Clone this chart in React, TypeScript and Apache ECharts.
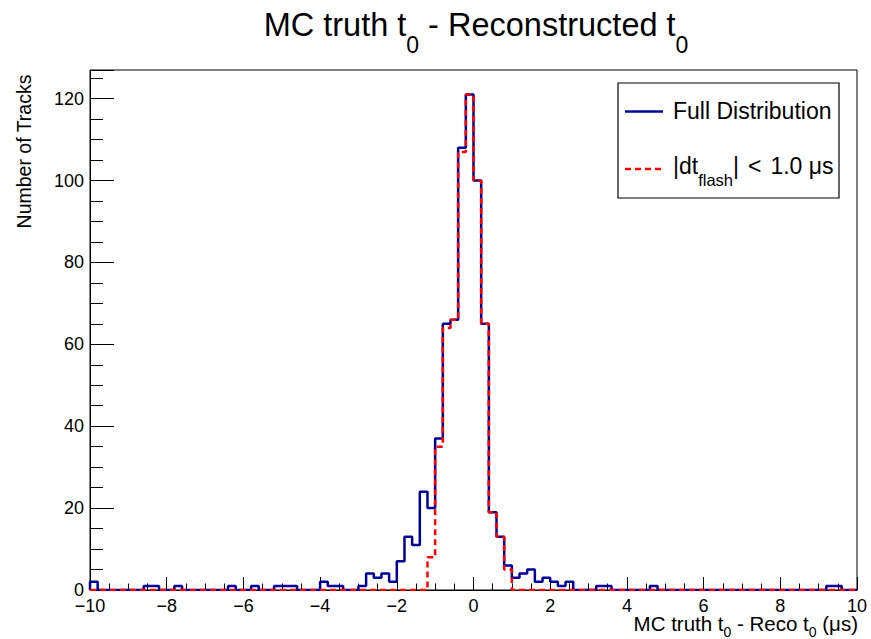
import React, { useEffect, useRef } from 'react';
import * as echarts from 'echarts';

// Histogram binning: 100 bins of 0.2 us from -10 to 10
const binStart = -10;
const binWidth = 0.2;

// Full distribution (blue, solid)
const fullCounts = [
  2, 0, 0, 0, 0, 0, 0, 1, 1, 0,
  0, 1, 0, 0, 0, 0, 0, 0, 1, 0,
  0, 1, 0, 0, 1, 1, 1, 0, 0, 0,
  2, 1, 1, 0, 0, 1, 4, 3, 4, 2,
  7, 13, 11, 24, 20, 37, 65, 66, 108, 121,
  100, 65, 19, 13, 6, 3, 4, 5, 2, 3,
  2, 1, 2, 0, 0, 0, 1, 1, 0, 0,
  0, 0, 0, 1, 0, 0, 0, 0, 0, 0,
  0, 0, 0, 0, 0, 0, 0, 0, 0, 0,
  0, 0, 0, 0, 0, 0, 1, 1, 0, 0,
];

// |dt_flash| < 1.0 us (red, dashed)
const cutCounts = [
  0, 0, 0, 0, 0, 0, 0, 0, 0, 0,
  0, 0, 0, 0, 0, 0, 0, 0, 0, 0,
  0, 0, 0, 0, 0, 0, 0, 0, 0, 0,
  0, 0, 0, 0, 0, 0, 0, 0, 0, 0,
  0, 0, 0, 0, 8, 35, 64, 66, 107, 121,
  100, 65, 19, 13, 5, 0, 0, 0, 0, 0,
  0, 0, 0, 0, 0, 0, 0, 0, 0, 0,
  0, 0, 0, 0, 0, 0, 0, 0, 0, 0,
  0, 0, 0, 0, 0, 0, 0, 0, 0, 0,
  0, 0, 0, 0, 0, 0, 0, 0, 0, 0,
];

const xMin = -10;
const xMax = 10;
const xInterval = 2;
const yMin = 0;
const yMax = 127;
const yMajor = 20;
const yMinor = 5;

const FONT = '"Liberation Sans", Arial, Helvetica, sans-serif';
const BLUE = '#000099';
const RED = '#ff0000';
const NB = '\u00a0';

function toSteps(counts: number[]): number[][] {
  const pts: number[][] = [[binStart, 0]];
  counts.forEach((c, i) => {
    pts.push([+(binStart + i * binWidth).toFixed(6), c]);
  });
  const end = +(binStart + counts.length * binWidth).toFixed(6);
  pts.push([end, counts[counts.length - 1]]);
  pts.push([end, 0]);
  return pts;
}

export default function App() {
  const ref = useRef<HTMLDivElement>(null);

  useEffect(() => {
    if (!ref.current) return;
    const chart = echarts.init(ref.current, undefined, { renderer: 'svg' });
    const black = '#000';
    const option: any = {
      animation: false,
      backgroundColor: '#fff',
      grid: {
        left: 90,
        right: 14,
        top: 70,
        bottom: 49,
        show: true,
        borderColor: black,
        borderWidth: 1,
        backgroundColor: 'transparent',
      },
      xAxis: {
        type: 'value',
        min: xMin,
        max: xMax,
        interval: xInterval,
        axisLine: { show: true, onZero: false, lineStyle: { color: black, width: 1 } },
        axisTick: { show: true, inside: true, length: 13, lineStyle: { color: black, width: 1 } },
        minorTick: { show: true, splitNumber: 4, length: 6.5, lineStyle: { color: black, width: 1 } },
        splitLine: { show: false },
        minorSplitLine: { show: false },
        axisLabel: {
          fontSize: 18,
          lineHeight: 14,
          fontFamily: FONT,
          color: black,
          margin: 9,
          formatter: (v: number) => String(v).replace('-', '\u2212'),
        },
      },
      yAxis: [
        {
          type: 'value',
          min: yMin,
          max: yMax,
          interval: yMajor,
          position: 'left',
          axisLine: { show: true, onZero: false, lineStyle: { color: black, width: 1 } },
          axisTick: { show: true, inside: true, length: 24, lineStyle: { color: black, width: 1 } },
          splitLine: { show: false },
          axisLabel: {
            fontSize: 18,
            fontFamily: FONT,
            color: black,
            margin: 6,
            formatter: (v: number) => (v % yMajor === 0 ? String(v) : ''),
          },
        },
        {
          type: 'value',
          min: yMin,
          max: yMax,
          interval: yMinor,
          position: 'left',
          axisLine: { show: false, onZero: false },
          axisTick: { show: true, inside: true, length: 13, lineStyle: { color: black, width: 1 } },
          splitLine: { show: false },
          axisLabel: { show: false },
        },
      ],
      series: [
        {
          name: 'Full Distribution',
          type: 'line',
          step: 'end',
          yAxisIndex: 0,
          showSymbol: false,
          symbol: 'none',
          data: toSteps(fullCounts),
          lineStyle: { color: BLUE, width: 2.5 },
          z: 3,
        },
        {
          name: '|dt_flash| < 1.0 μs',
          type: 'line',
          step: 'end',
          yAxisIndex: 0,
          showSymbol: false,
          symbol: 'none',
          data: toSteps(cutCounts),
          lineStyle: { color: RED, width: 2.5, type: [6, 4] },
          z: 4,
        },
      ],
      graphic: [
        {
          type: 'text',
          x: 476,
          y: 25,
          z: 100,
          style: {
            text: '{m|MC truth t}{s|0}{m| - Reconstructed t}{s|0}',
            align: 'center',
            verticalAlign: 'middle',
            fill: black,
            fontFamily: FONT,
            fontSize: 32.5,
            rich: {
              m: { fontSize: 32.5, lineHeight: 32.5, fontFamily: FONT, fill: black, color: black },
              s: { fontSize: 23, lineHeight: 23, fontFamily: FONT, fill: black, color: black, padding: [40, 0, 0, 0] },
            },
          },
        },
        {
          type: 'text',
          x: 858,
          y: 623,
          z: 100,
          style: {
            text: '{m|MC truth t}{s|0}{m| - Reco t}{s|0}{m| (\u03bcs)}',
            align: 'right',
            verticalAlign: 'middle',
            fill: black,
            fontFamily: FONT,
            fontSize: 20.5,
            rich: {
              m: { fontSize: 20.5, lineHeight: 20.5, fontFamily: FONT, fill: black, color: black },
              s: { fontSize: 14, lineHeight: 14, fontFamily: FONT, fill: black, color: black, padding: [18, 0, 0, 0] },
            },
          },
        },
        {
          type: 'text',
          x: 23.5,
          y: 151.5,
          rotation: Math.PI / 2,
          z: 100,
          style: {
            text: 'Number of Tracks',
            align: 'center',
            verticalAlign: 'middle',
            fill: black,
            fontFamily: FONT,
            fontSize: 19.5,
          },
        },
        {
          type: 'rect',
          z: 100,
          shape: { x: 618, y: 83, width: 221, height: 115 },
          style: { fill: '#fff', stroke: black, lineWidth: 1.2 },
        },
        {
          type: 'line',
          z: 101,
          shape: { x1: 625, y1: 111.5, x2: 663, y2: 111.5 },
          style: { stroke: BLUE, lineWidth: 2.5 },
        },
        {
          type: 'line',
          z: 101,
          shape: { x1: 625, y1: 169, x2: 661, y2: 169 },
          style: { stroke: RED, lineWidth: 2.5, lineDash: [6, 4] },
        },
        {
          type: 'text',
          x: 673,
          y: 110.7,
          z: 101,
          style: {
            text: 'Full Distribution',
            align: 'left',
            verticalAlign: 'middle',
            fill: black,
            fontFamily: FONT,
            fontSize: 23,
          },
        },
        {
          type: 'text',
          x: 673,
          y: 166,
          z: 101,
          style: {
            text: '{m||dt}{s|flash}{m||}{lt|<}{m|1.0' + NB + '\u03bcs}',
            align: 'left',
            verticalAlign: 'middle',
            fill: black,
            fontFamily: FONT,
            fontSize: 23,
            rich: {
              m: { fontSize: 23, lineHeight: 23, fontFamily: FONT, fill: black, color: black },
              lt: { fontSize: 23, lineHeight: 23, fontFamily: FONT, fill: black, color: black, padding: [0, 9, 0, 9] },
              s: { fontSize: 16.5, lineHeight: 16.5, fontFamily: FONT, fill: black, color: black, padding: [27, 0, 0, 0] },
            },
          },
        },
      ],
    };
    chart.setOption(option);
    return () => {
      chart.dispose();
    };
  }, []);

  return (
    <div
      ref={ref}
      style={{ position: 'fixed', left: 0, top: 0, width: 871, height: 639, background: '#fff' }}
    />
  );
}
